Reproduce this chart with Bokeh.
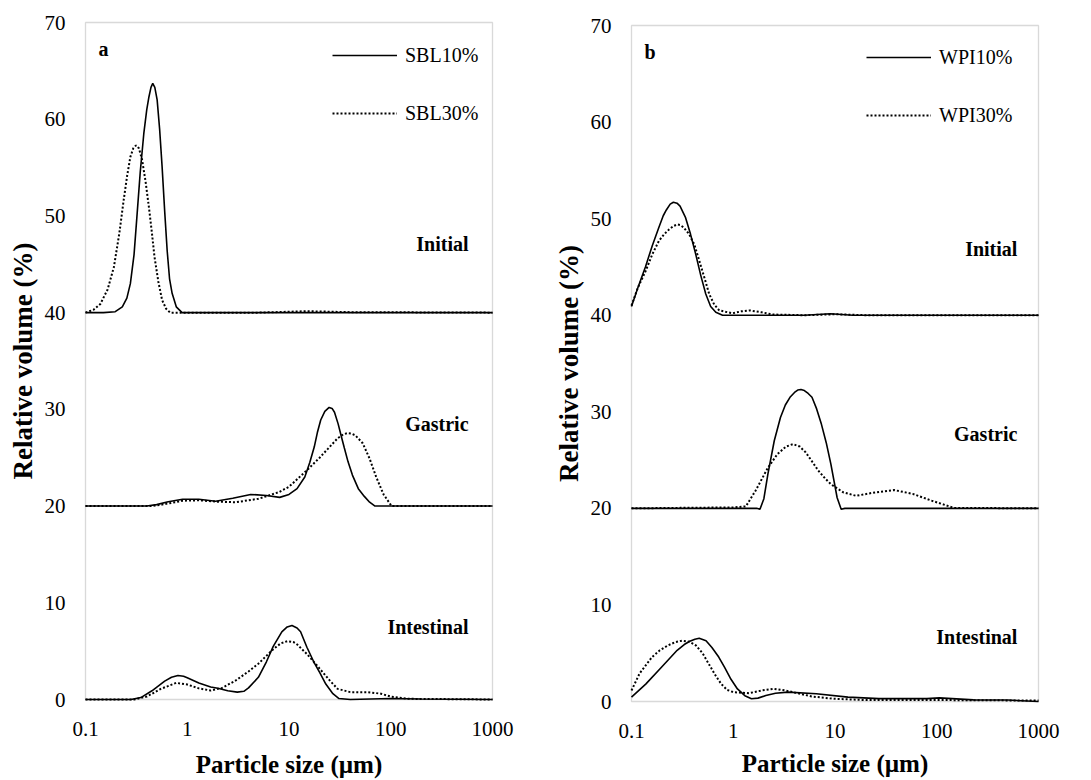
import math
from bokeh.plotting import figure
from bokeh.models import Label, Legend, LegendItem, Range1d, BoxAnnotation
from bokeh.layouts import row
from bokeh.embed import file_html
from bokeh.resources import INLINE

# ---------------- data ----------------
x_ticks = [0.1, 1, 10, 100, 1000]
y_ticks = [0, 10, 20, 30, 40, 50, 60, 70]

# Panel a (SBL)
sbl10_init_x = [0.1, 0.15, 0.196, 0.23, 0.255, 0.276, 0.30, 0.32, 0.345, 0.374, 0.40, 0.42, 0.44, 0.458, 0.48, 0.506,
                0.535, 0.566, 0.60, 0.635, 0.67, 0.71, 0.78, 0.89, 1000]
sbl10_init_y = [40, 40, 40.1, 40.6, 41.5, 43.0, 46.0, 49.9, 54.5, 58.5, 61.0, 62.3, 63.3, 63.7, 63.3, 62.0,
                59.0, 55.1, 50.5, 46.4, 43.5, 42.0, 40.6, 40.0, 40]
sbl30_init_x = [0.1, 0.12, 0.14, 0.165, 0.19, 0.215, 0.237, 0.257, 0.276, 0.295, 0.314, 0.335, 0.36, 0.39, 0.42,
                0.45, 0.476, 0.52, 0.566, 0.62, 0.68, 0.8, 5, 15, 40, 1000]
sbl30_init_y = [40, 40.3, 40.9, 42.4, 44.7, 48.2, 51.6, 54.2, 56.1, 57.0, 57.3, 57.0, 55.8, 53.5, 50.9,
                48.2, 45.8, 43.2, 41.3, 40.4, 40.0, 40.0, 40.0, 40.15, 40.05, 40]
sbl10_gas_x = [0.1, 0.4, 0.5, 0.65, 0.9, 1.3, 1.9, 2.8, 4.2, 6.0, 8.1, 10, 12, 14.3, 16, 17.7, 19, 20.5, 22.5, 24.8,
               26.5, 28, 30.4, 32.5, 35, 38, 42, 48, 55, 62, 70, 1000]
sbl10_gas_y = [20, 20, 20.15, 20.45, 20.7, 20.7, 20.5, 20.8, 21.2, 21.1, 20.9, 21.2, 21.8, 23.0, 24.5, 26.1, 27.6,
               28.9, 29.8, 30.2, 30.1, 29.7, 28.5, 27.3, 26.0, 24.6, 23.2, 21.8, 21.0, 20.4, 20.0, 20]
sbl30_gas_x = [0.1, 0.45, 0.6, 0.9, 1.3, 2.0, 3.0, 5.0, 8.0, 10, 15, 20, 25, 30, 34, 37.6, 41, 45, 53, 62, 72, 85,
               102, 1000]
sbl30_gas_y = [20, 20, 20.2, 20.55, 20.6, 20.45, 20.4, 20.75, 21.45, 22.0, 23.7, 25.0, 26.1, 27.0, 27.4, 27.55,
               27.5, 27.3, 26.5, 24.9, 23.0, 21.2, 20.0, 20]
sbl10_int_x = [0.1, 0.28, 0.35, 0.45, 0.6, 0.7, 0.81, 0.92, 1.0, 1.3, 1.7, 2.0, 2.5, 3.1, 3.6, 4.0, 5.0, 6.0, 7.0,
               8.5, 9.6, 10.7, 12, 13, 15, 17.5, 20, 23, 27, 31, 40, 100, 200, 1000]
sbl10_int_y = [0, 0, 0.2, 0.9, 1.9, 2.3, 2.48, 2.4, 2.25, 1.7, 1.3, 1.17, 0.9, 0.76, 0.85, 1.2, 2.3, 3.9, 5.5,
               7.0, 7.5, 7.66, 7.4, 7.0, 5.4, 3.9, 2.8, 1.6, 0.6, 0.1, 0.0, 0.1, 0.05, 0]
sbl30_int_x = [0.1, 0.3, 0.4, 0.55, 0.78, 1.0, 1.3, 1.7, 2.2, 3.0, 4.0, 5.0, 7.0, 8.3, 9.6, 11, 12, 15, 20, 25, 30,
               40, 60, 80, 100, 150, 1000]
sbl30_int_y = [0, 0, 0.3, 1.1, 1.72, 1.55, 1.15, 0.93, 1.2, 1.97, 2.9, 3.7, 5.2, 5.8, 6.03, 5.95, 5.7, 4.7, 3.2,
               2.0, 1.1, 0.76, 0.76, 0.6, 0.3, 0.07, 0]

# Panel b (WPI)
wpi10_init_x = [0.1, 0.115, 0.137, 0.16, 0.186, 0.205, 0.22, 0.24, 0.258, 0.28, 0.30, 0.34, 0.38, 0.428, 0.48,
                0.537, 0.6, 0.674, 0.785, 5, 9, 15, 1000]
wpi10_init_y = [40.9, 42.8, 45.0, 47.2, 49.1, 50.3, 50.9, 51.5, 51.7, 51.6, 51.3, 50.1, 48.4, 46.3, 44.1,
                42.2, 40.9, 40.3, 40.0, 40.0, 40.15, 40.0, 40]
wpi30_init_x = [0.1, 0.115, 0.138, 0.16, 0.186, 0.21, 0.235, 0.26, 0.282, 0.30, 0.325, 0.368, 0.415, 0.462, 0.52,
                0.58, 0.65, 0.728, 0.98, 1.2, 1.44, 1.9, 2.46, 5, 10, 20, 1000]
wpi30_init_y = [41.0, 42.8, 44.6, 46.3, 47.7, 48.4, 48.9, 49.25, 49.4, 49.35, 49.1, 48.4, 47.3, 45.7, 43.9,
                42.2, 41.1, 40.5, 40.2, 40.4, 40.5, 40.3, 40.07, 40.0, 40.1, 40.0, 40]
wpi10_gas_x = [0.1, 1.7, 1.83, 2.0, 2.19, 2.53, 2.91, 3.25, 3.61, 4.0, 4.3, 4.63, 5.0, 5.45, 5.94, 6.6, 7.36, 8.2,
               9.1, 10.5, 11.5, 12.5, 1000]
wpi10_gas_y = [20, 20, 19.9, 21.0, 23.55, 27.0, 29.4, 30.7, 31.5, 32.0, 32.25, 32.3, 32.2, 31.9, 31.5, 30.3,
               28.7, 26.8, 24.6, 21.1, 19.9, 20, 20]
wpi30_gas_x = [0.1, 0.3, 1.0, 1.33, 1.65, 2.19, 2.71, 3.3, 3.87, 4.5, 5.15, 6.0, 6.86, 8.0, 9.1, 12.1, 16.1, 24.7,
               38, 58, 89, 147, 1000]
wpi30_gas_y = [20, 20.05, 20.1, 20.2, 21.8, 24.2, 25.6, 26.4, 26.65, 26.4, 25.8, 24.8, 23.9, 23.1, 22.5, 21.65,
               21.3, 21.65, 21.9, 21.5, 20.8, 20.05, 20]
wpi10_int_x = [0.1, 0.138, 0.197, 0.281, 0.33, 0.374, 0.42, 0.463, 0.54, 0.617, 0.72, 0.82, 0.95, 1.1, 1.3, 1.51,
               1.75, 2.09, 2.6, 3.44, 6.55, 13.4, 27, 80, 106, 230, 500, 1000]
wpi10_int_y = [0.45, 1.8, 3.55, 5.3, 5.9, 6.24, 6.45, 6.55, 6.3, 5.6, 4.6, 3.55, 2.3, 1.3, 0.6, 0.28,
               0.35, 0.62, 0.85, 0.97, 0.8, 0.45, 0.3, 0.3, 0.38, 0.17, 0.15, 0]
wpi30_int_x = [0.1, 0.12, 0.159, 0.19, 0.227, 0.27, 0.313, 0.37, 0.43, 0.5, 0.574, 0.66, 0.76, 0.87, 1.0, 1.43,
               1.9, 2.52, 3.2, 3.87, 5.9, 9.7, 20, 100, 1000]
wpi30_int_y = [1.14, 2.9, 4.6, 5.3, 5.8, 6.15, 6.3, 6.2, 5.8, 5.0, 3.9, 2.8, 1.83, 1.2, 0.97, 0.86,
               1.14, 1.31, 1.15, 0.97, 0.52, 0.28, 0.15, 0.15, 0.1]

stage_labels = ["Initial", "Gastric", "Intestinal"]
x_title = "Particle size (µm)"
y_title = "Relative volume (%)"

FONT = "Liberation Serif"
FRAME_C = "#808080"
X_MIN, X_MAX, Y_MIN, Y_MAX = 0.1, 1000, 0, 70
H = 780
FRAME_W = 407


def txt(p, x, y, text, size, bold=False, align="left", baseline="middle", xo=0, yo=0, angle=0.0):
    p.add_layout(Label(x=x, y=y, x_offset=xo, y_offset=yo, text=text, text_font=FONT,
                       text_font_size=size, text_font_style="bold" if bold else "normal",
                       text_align=align, text_baseline=baseline, text_color="black", angle=angle))


def make_panel(letter, names, solid, dotted, width, pad_l, pad_t, pad_b, stage_pos, legend_loc, title_off):
    # the plotting area covers the whole canvas; the data box sits at pad_l / pad_t / pad_b
    frame_h = H - pad_t - pad_b
    lx0, lx1 = math.log10(X_MIN), math.log10(X_MAX)
    px_per_dec = FRAME_W / (lx1 - lx0)
    px_per_y = frame_h / (Y_MAX - Y_MIN)
    xr = Range1d(10 ** (lx0 - pad_l / px_per_dec), 10 ** (lx1 + (width - pad_l - FRAME_W) / px_per_dec))
    yr = Range1d(Y_MIN - pad_b / px_per_y, Y_MAX + pad_t / px_per_y)

    p = figure(width=width, height=H, x_axis_type="log", output_backend="svg", toolbar_location=None,
               x_range=xr, y_range=yr, min_border=0)
    p.background_fill_color = "white"
    p.border_fill_color = "white"
    p.outline_line_color = None
    p.xgrid.grid_line_color = None
    p.ygrid.grid_line_color = None
    p.xaxis.visible = False
    p.yaxis.visible = False

    p.add_layout(BoxAnnotation(left=X_MIN, right=X_MAX, bottom=Y_MIN, top=Y_MAX, fill_alpha=0,
                               line_color=FRAME_C, line_width=1.3, level="underlay"))

    # tick labels and axis titles
    for t in x_ticks:
        txt(p, t, Y_MIN, f"{t:g}", "21px", align="center", yo=-29)
    for t in y_ticks:
        txt(p, X_MIN, t, f"{t:g}", "21px", align="right", xo=-20)
    x_mid = math.sqrt(X_MIN * X_MAX)
    txt(p, x_mid, Y_MIN, x_title, "25px", bold=True, align="center", yo=title_off)
    txt(p, X_MIN, (Y_MIN + Y_MAX) / 2, y_title, "27px", bold=True, align="center", xo=-63,
        angle=math.pi / 2)

    r_solid = None
    r_dot = None
    for (sx, sy), (dx, dy) in zip(solid, dotted):
        rd = p.line(dx, dy, line_color="black", line_width=2, line_dash="2 2")
        rs = p.line(sx, sy, line_color="black", line_width=1.6)
        if r_solid is None:
            r_solid, r_dot = rs, rd

    legend = Legend(items=[LegendItem(label=names[0], renderers=[r_solid]),
                           LegendItem(label=names[1], renderers=[r_dot])],
                    location=legend_loc, orientation="vertical",
                    glyph_width=65, glyph_height=24, label_height=24, spacing=34,
                    label_standoff=8, padding=0, margin=0,
                    border_line_color=None, background_fill_alpha=0,
                    label_text_font=FONT, label_text_font_size="20px", label_text_color="black")
    p.add_layout(legend, "center")

    txt(p, 0.134, 67.3, letter, "20px", bold=True)
    for s, (lx, ly) in zip(stage_labels, stage_pos):
        txt(p, lx, ly, s, "20px", bold=True, align="right")
    return p


p1 = make_panel("a", ["SBL10%", "SBL30%"],
                [(sbl10_init_x, sbl10_init_y), (sbl10_gas_x, sbl10_gas_y), (sbl10_int_x, sbl10_int_y)],
                [(sbl30_init_x, sbl30_init_y), (sbl30_gas_x, sbl30_gas_y), (sbl30_int_x, sbl30_int_y)],
                545, 85, 22, 81,
                [(581, 47.1), (581, 28.5), (581, 7.5)], (332, 655), -65)
p2 = make_panel("b", ["WPI10%", "WPI30%"],
                [(wpi10_init_x, wpi10_init_y), (wpi10_gas_x, wpi10_gas_y), (wpi10_int_x, wpi10_int_y)],
                [(wpi30_init_x, wpi30_init_y), (wpi30_gas_x, wpi30_gas_y), (wpi30_int_x, wpi30_int_y)],
                546, 86, 25, 79,
                [(620, 46.9), (620, 27.7), (620, 6.7)], (321, 653), -62)

layout = row(p1, p2, spacing=0)
open("out.html", "w").write(file_html(layout, INLINE))
